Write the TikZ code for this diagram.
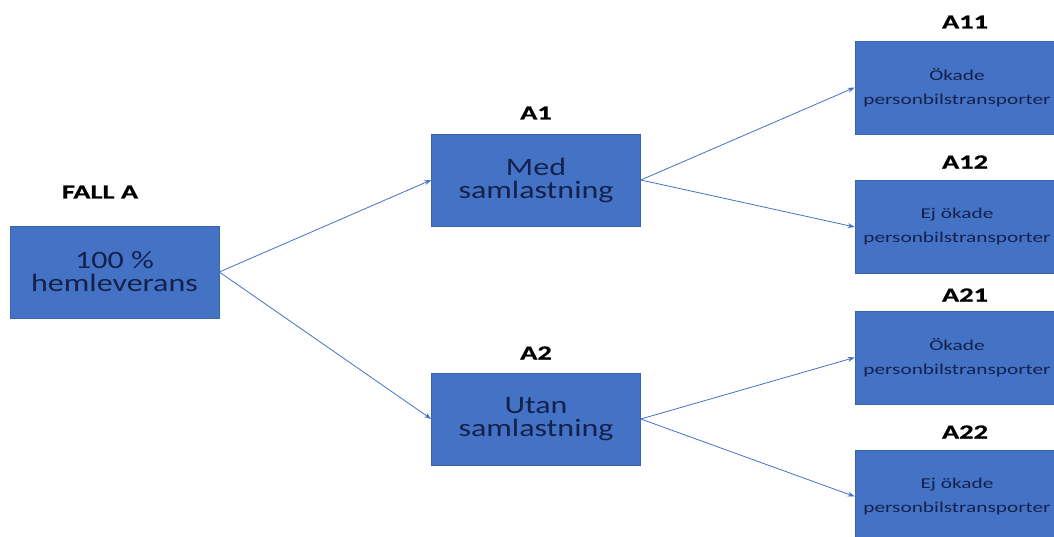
\documentclass[tikz,border=0pt]{standalone}
\usepackage{fontspec}
\setmainfont{Carlito}
\newfontfamily\bigfont[FakeStretch=1.28]{Carlito}
\newfontfamily\smallfont[FakeStretch=1.42]{Carlito}
\newfontfamily\lblfont[FakeStretch=1.42,BoldFeatures={FakeBold=0.8}]{Carlito}
\usetikzlibrary{arrows.meta}
\definecolor{boxblue}{HTML}{4472C4}
\definecolor{boxedge}{HTML}{3A64B0}
\definecolor{txt}{HTML}{14214D}
\begin{document}
\begin{tikzpicture}[x=1pt,y=-1pt,
  box/.style={draw=boxedge, line width=0.6pt, fill=boxblue, minimum width=209pt, minimum height=92pt, inner sep=0pt, align=center, text=txt, font=\bigfont\fontsize{25}{23}\selectfont},
  sbox/.style={box, minimum width=204pt, minimum height=93pt, font=\smallfont\fontsize{15}{24}\selectfont},
  lbl/.style={font=\lblfont\bfseries\fontsize{20}{20}\selectfont, text=black},
  conn/.style={draw=boxblue, line width=0.8pt, -{Stealth[length=7pt,width=5pt]}}]
\useasboundingbox (0,0) rectangle (1054,537);
\clip (0,0) rectangle (1054,537);
\fill[white] (0,0) rectangle (1054,537);
\node[box] (root) at (114.5,272) {100 \%\\hemleverans};
\node[box] (a1) at (536,180) {Med\\samlastning};
\node[box] (a2) at (536,419) {Utan\\samlastning};
\node[sbox] (a11) at (957,87.5) {Ökade\\personbilstransporter};
\node[sbox] (a12) at (957,227) {Ej ökade\\personbilstransporter};
\node[sbox] (a21) at (957,357.5) {Ökade\\personbilstransporter};
\node[sbox] (a22) at (957,496.5) {Ej ökade\\personbilstransporter};
\node[lbl] (lfall) at (100,192) {FALL A};
\node[lbl] (la1) at (536,113) {A1};
\node[lbl] (la2) at (536,353) {A2};
\node[lbl] (la11) at (965,22) {A11};
\node[lbl] (la12) at (965,162) {A12};
\node[lbl] (la21) at (965,295) {A21};
\node[lbl] (la22) at (965,432) {A22};
\draw[conn] (root.east) -- (a1.west);
\draw[conn] (root.east) -- (a2.west);
\draw[conn] (a1.east) -- (a11.west);
\draw[conn] (a1.east) -- (a12.west);
\draw[conn] (a2.east) -- (a21.west);
\draw[conn] (a2.east) -- (a22.west);
\end{tikzpicture}
\end{document}
